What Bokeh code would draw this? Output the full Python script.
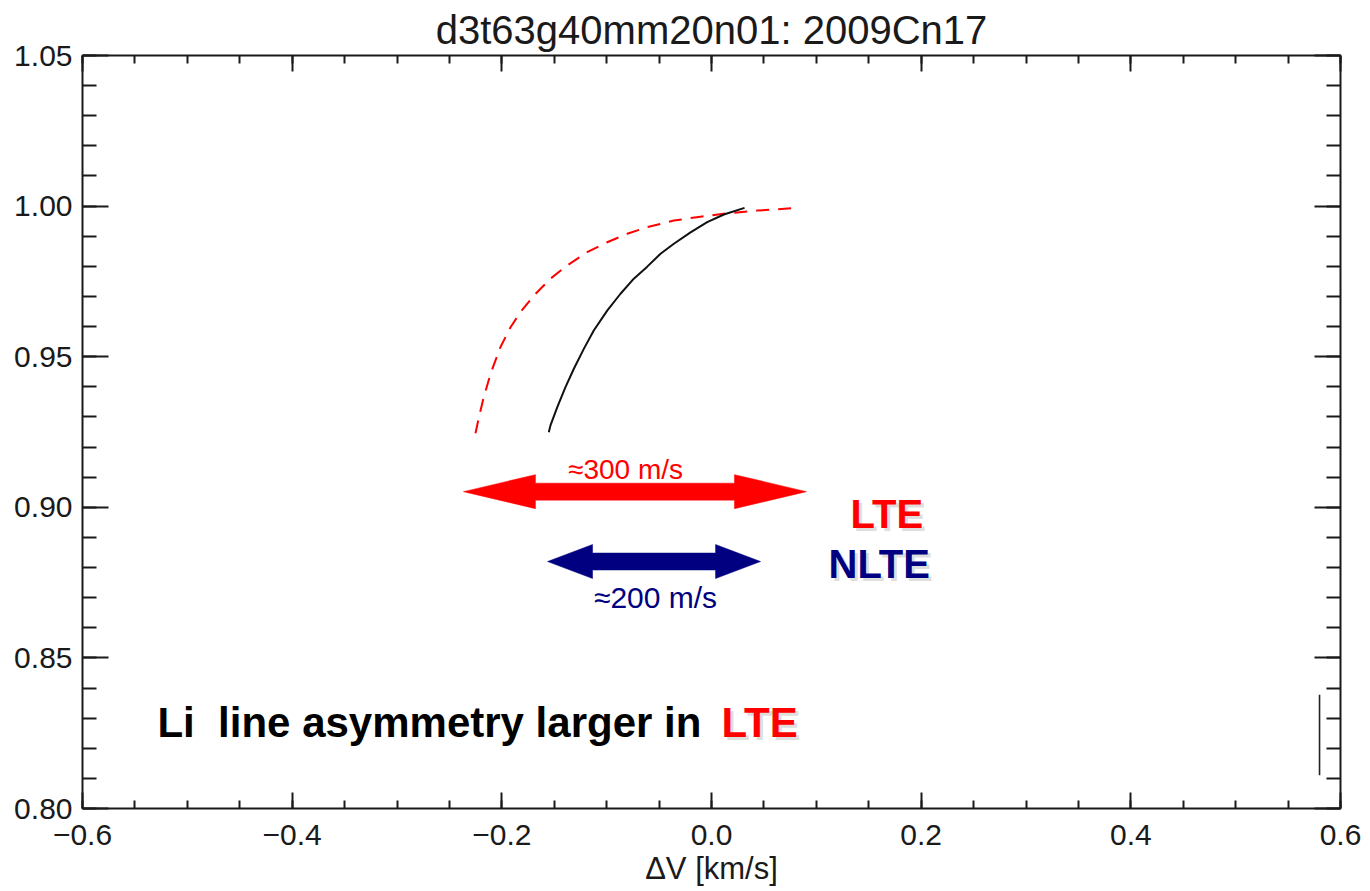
from bokeh.plotting import figure
from bokeh.models import Range1d, LinearAxis, FixedTicker, CustomJSTickFormatter
from bokeh.embed import file_html
from bokeh.resources import INLINE
from bokeh.core.properties import value

# ---- data -------------------------------------------------------------
# NLTE line bisector (solid black): velocity shift [km/s] vs. normalised flux
nlte_dv = [-0.1552, -0.1536, -0.1472, -0.1393, -0.1313, -0.1218, -0.1123, -0.0995,
           -0.0868, -0.0741, -0.0613, -0.0486, -0.0359, -0.0200, -0.0041, 0.0118, 0.0315]
nlte_flux = [0.9249, 0.9272, 0.9332, 0.9399, 0.9460, 0.9526, 0.9587, 0.9653,
             0.9709, 0.9759, 0.9799, 0.9842, 0.9875, 0.9913, 0.9947, 0.9972, 0.9994]

# LTE line bisector (dashed red)
lte_dv = [-0.2251, -0.2219, -0.2172, -0.2108, -0.2013, -0.1917, -0.1822, -0.1695,
          -0.1536, -0.1376, -0.1186, -0.0995, -0.0804, -0.0613, -0.0359, -0.0105,
          0.0150, 0.0436, 0.0818]
lte_flux = [0.9246, 0.9299, 0.9366, 0.9443, 0.9532, 0.9598, 0.9648, 0.9703,
            0.9759, 0.9803, 0.9847, 0.9880, 0.9908, 0.9930, 0.9952, 0.9965,
            0.9976, 0.9985, 0.9994]

# reference bar in the lower right corner
ref_bar_dv = [0.58, 0.58]
ref_bar_flux = [0.811, 0.8378]

# extent of the bisector spans
lte_span = [-0.2366, 0.0906]
nlte_span = [-0.1564, 0.0468]

x_ticks = [-0.6, -0.4, -0.2, 0.0, 0.2, 0.4, 0.6]
x_minor = [round(-0.6 + 0.05 * i, 2) for i in range(25)]
y_ticks = [0.80, 0.85, 0.90, 0.95, 1.00, 1.05]
y_minor = [round(0.80 + 0.01 * i, 2) for i in range(26)]

# ---- figure -----------------------------------------------------------
W, H = 1370, 891
L, R, T, B = 82, 30, 55, 83
FONT = "Liberation Sans"
INK = "#1a1a1a"

p = figure(width=W, height=H, output_backend="svg", toolbar_location=None,
           x_range=Range1d(-0.6, 0.6), y_range=Range1d(0.80, 1.05),
           x_axis_type=None, y_axis_type=None,
           min_border_left=L, min_border_right=R, min_border_top=T, min_border_bottom=B)
p.outline_line_color = None
p.xgrid.visible = False
p.ygrid.visible = False
p.background_fill_color = "white"
p.border_fill_color = "white"

p.title.text = "d3t63g40mm20n01: 2009Cn17"
p.title.align = "center"
p.title.text_font = FONT
p.title.text_font_size = "40px"
p.title.text_font_style = "normal"
p.title.text_color = INK
p.title.standoff = 8

# data units per screen pixel
fw, fh = W - L - R, H - T - B
PX_X = 1.2 / fw
PX_Y = 0.25 / fh

xfmt = CustomJSTickFormatter(code="return tick.toFixed(1).replace('-', '\\u2212');")
yfmt = CustomJSTickFormatter(code="return tick.toFixed(2);")
blank = CustomJSTickFormatter(code="return '';")


def style_axis(ax, ticks, minor, major_len, minor_len, fmt):
    ax.ticker = FixedTicker(ticks=ticks, minor_ticks=minor)
    ax.formatter = fmt
    ax.axis_line_width = 2
    ax.axis_line_color = INK
    ax.major_tick_in = major_len
    ax.major_tick_out = 0
    ax.minor_tick_in = minor_len
    ax.minor_tick_out = 0
    ax.major_tick_line_width = 2
    ax.minor_tick_line_width = 2
    ax.major_tick_line_color = INK
    ax.minor_tick_line_color = INK
    ax.major_label_text_font = FONT
    ax.major_label_text_font_size = "30px"
    ax.major_label_text_color = INK


bottom = LinearAxis()
style_axis(bottom, x_ticks, x_minor, 16, 8, xfmt)
bottom.major_label_standoff = 16
bottom.axis_label = "\u0394V [km/s]"
bottom.axis_label_text_font = FONT
bottom.axis_label_text_font_size = "31px"
bottom.axis_label_text_font_style = "normal"
bottom.axis_label_text_color = INK
bottom.axis_label_standoff = 3

# mirrored axes carry ticks only
top = LinearAxis()
style_axis(top, x_ticks, x_minor, 16, 8, blank)
top.major_label_standoff = 0

left = LinearAxis()
style_axis(left, y_ticks, y_minor, 26, 14, yfmt)
left.major_label_standoff = 10

right = LinearAxis()
style_axis(right, y_ticks, y_minor, 26, 14, blank)
right.major_label_standoff = 0

p.add_layout(bottom, "below")
p.add_layout(top, "above")
p.add_layout(left, "left")
p.add_layout(right, "right")

# ---- curves -----------------------------------------------------------
p.line(lte_dv, lte_flux, line_color="#ff0000", line_width=2, line_dash="13 9")
p.line(nlte_dv, nlte_flux, line_color="#111111", line_width=2)
p.line(ref_bar_dv, ref_bar_flux, line_color="#222222", line_width=1.6)


# ---- double-headed arrows ---------------------------------------------
def double_arrow(span, y, head_px, color):
    x0, x1 = span
    hl = head_px * PX_X
    hh = 17 * PX_Y
    sh = 8.5 * PX_Y
    xs = [x0, x0 + hl, x0 + hl, x1 - hl, x1 - hl, x1, x1 - hl, x1 - hl, x0 + hl, x0 + hl]
    ys = [y, y + hh, y + sh, y + sh, y + hh, y, y - hh, y - sh, y - sh, y - hh]
    p.patch(xs, ys, fill_color=color, line_color=color, line_width=0.5)


double_arrow(lte_span, 0.9052, 72, "#ff0000")
double_arrow(nlte_span, 0.8820, 45, "#000080")


def txt(x, y, s, color, size, bold=False, align="left", shadow=False):
    style = "bold" if bold else "normal"
    if shadow:
        p.text([x + 3 * PX_X], [y - 3 * PX_Y], text=[s], text_color="#a0a0a0",
               text_alpha=0.35, text_font=value(FONT), text_font_size=value(size),
               text_font_style=style, text_align=align, text_baseline="middle")
    p.text([x], [y], text=[s], text_color=color, text_font=value(FONT),
           text_font_size=value(size), text_font_style=style,
           text_align=align, text_baseline="middle")


txt(-0.082, 0.9127, "\u2248300 m/s", "#ff0000", "28px", align="center")
txt(-0.0534, 0.8702, "\u2248200 m/s", "#000080", "30px", align="center")
txt(0.1326, 0.8979, "LTE", "#ff0000", "40px", bold=True, shadow=True)
txt(0.1116, 0.8812, "NLTE", "#000080", "40px", bold=True, shadow=True)
txt(-0.5285, 0.8287, "Li\u00a0 line asymmetry larger in", "#000000", "42px", bold=True)
txt(0.0096, 0.8287, "LTE", "#ff0000", "42px", bold=True, shadow=True)

open("out.html", "w").write(file_html(p, INLINE))
